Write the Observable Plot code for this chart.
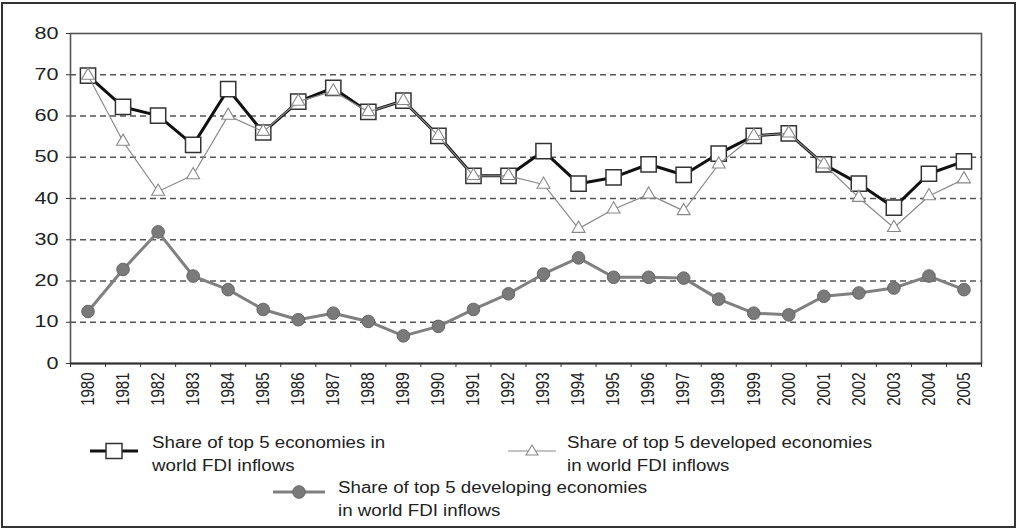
<!DOCTYPE html>
<html>
<head>
<meta charset="utf-8">
<script src="https://cdn.jsdelivr.net/npm/d3@7"></script>
<script src="https://cdn.jsdelivr.net/npm/@observablehq/plot@0.6"></script>
<style>
  html, body { margin: 0; padding: 0; background: #fff; }
  #wrap { position: relative; width: 1019px; height: 529px; overflow: hidden; font-family: "Liberation Sans", Arial, sans-serif; }
  #outer { position: absolute; left: 1px; top: 2px; width: 1015px; height: 526px; box-sizing: border-box; border: 2px solid #333; }
  #chart { position: absolute; left: 0; top: 0; }
  .leg { position: absolute; font-size: 16px; line-height: 23px; color: #222; white-space: nowrap; }
  .leg span { display: inline-block; transform-origin: left top; }
  .icon { position: absolute; }
</style>
</head>
<body>
<div id="wrap">
  <div id="outer"></div>
  <div id="chart"></div>
</div>
<script>
const years = [1980, 1981, 1982, 1983, 1984, 1985, 1986, 1987, 1988, 1989, 1990, 1991, 1992,
               1993, 1994, 1995, 1996, 1997, 1998, 1999, 2000, 2001, 2002, 2003, 2004, 2005];
const total = [69.8, 62.2, 60.1, 53.0, 66.5, 56.0, 63.5, 66.8, 61.0, 63.7, 55.2, 45.5, 45.5,
               51.5, 43.6, 45.1, 48.3, 45.7, 50.9, 55.2, 55.8, 48.3, 43.6, 37.8, 46.0, 49.0];
const developed = [69.8, 53.8, 41.7, 45.7, 60.1, 56.2, 63.5, 66.0, 61.0, 63.7, 55.2, 45.5, 45.5,
                   43.4, 32.7, 37.4, 41.0, 37.0, 48.3, 55.2, 55.8, 48.3, 40.2, 32.9, 40.6, 44.7];
const developing = [12.6, 22.8, 31.9, 21.2, 17.9, 13.1, 10.6, 12.2, 10.2, 6.7, 9.0, 13.1, 16.9,
                    21.7, 25.6, 20.9, 20.9, 20.7, 15.6, 12.2, 11.8, 16.3, 17.1, 18.3, 21.2, 17.9];
const yTicks = [0, 10, 20, 30, 40, 50, 60, 70, 80];
const gridTicks = [10, 20, 30, 40, 50, 60, 70];
const legendLabels = [
  ["Share of top 5 economies in", "world FDI inflows"],
  ["Share of top 5 developed economies", "in world FDI inflows"],
  ["Share of top 5 developing economies", "in world FDI inflows"]
];

const data = years.map((year, i) => ({year, total: total[i], developed: developed[i], developing: developing[i]}));
const boundaries = years.map(y => y - 0.5).concat([years[years.length - 1] + 0.5]);

const plot = Plot.plot({
  width: 1019,
  height: 420,
  marginLeft: 70,
  marginRight: 38,
  marginTop: 33,
  marginBottom: 57,
  style: {fontFamily: "'Liberation Sans', Arial, sans-serif", background: "transparent", color: "#222"},
  x: {type: "linear", domain: [years[0] - 0.5, years[years.length - 1] + 0.5], label: null},
  y: {domain: [0, 80], label: null},
  marks: [
    Plot.gridY({ticks: gridTicks, stroke: "#555", strokeOpacity: 1, strokeWidth: 1.6, strokeDasharray: "6,4"}),
    Plot.frame({stroke: "#555", strokeWidth: 1.6}),
    Plot.axisY({ticks: yTicks, tickSize: 4, tickPadding: 8, fontSize: 16, label: null, tickFormat: d => String(d), stroke: "#333"}),
    Plot.axisX({ticks: boundaries, tickSize: 4, label: null, tickFormat: () => "", stroke: "#333"}),
    Plot.axisX({ticks: years, tickSize: 0, tickPadding: 9, tickRotate: -90, fontSize: 15, label: null, tickFormat: d => String(d)}),
    Plot.ruleY([0], {stroke: "#333", strokeWidth: 2}),
    Plot.line(data, {x: "year", y: "total", stroke: "#111", strokeWidth: 3}),
    Plot.dot(data, {x: "year", y: "total", symbol: "square", r: 8.6, fill: "#fff", stroke: "#333", strokeWidth: 1.5}),
    Plot.line(data, {x: "year", y: "developed", stroke: "#8a8a8a", strokeWidth: 1.2}),
    Plot.dot(data, {x: "year", y: "developed", symbol: "triangle", r: 4.8, fill: "#fff", stroke: "#888", strokeWidth: 1.1}),
    Plot.line(data, {x: "year", y: "developing", stroke: "#808080", strokeWidth: 3}),
    Plot.dot(data, {x: "year", y: "developing", symbol: "circle", r: 6.3, fill: "#7a7a7a", stroke: "#666", strokeWidth: 1})
  ]
});
document.getElementById("chart").appendChild(plot);

// widen glyphs to mimic the stretched look of the original
d3.select(plot).selectAll('g[aria-label="y-axis tick label"] text').each(function() {
  const len = this.getComputedTextLength();
  d3.select(this).attr("textLength", len * 1.35).attr("lengthAdjust", "spacingAndGlyphs");
});
d3.select(plot).selectAll('g[aria-label="x-axis tick label"] text').each(function() {
  const t = this.getAttribute("transform");
  if (t) this.setAttribute("transform", t + " scale(1,1.2)");
});

// legend
const wrap = document.getElementById("wrap");
const legPos = [
  {x: 152, y: 431},
  {x: 567, y: 431},
  {x: 338, y: 476}
];
const legDivs = legendLabels.map((lines, i) => {
  const d = document.createElement("div");
  d.className = "leg";
  d.style.left = legPos[i].x + "px";
  d.style.top = legPos[i].y + "px";
  d.innerHTML = lines.map(l => `<span>${l}</span>`).join("<br>");
  wrap.appendChild(d);
  return d;
});
// scale text width to match
const probe = legDivs[1].querySelector("span");
const factor = 305 / probe.getBoundingClientRect().width;
legDivs.forEach(d => d.querySelectorAll("span").forEach(s => s.style.transform = `scaleX(${factor})`));

function icon(x, y, w, h, inner) {
  const s = document.createElementNS("http://www.w3.org/2000/svg", "svg");
  s.setAttribute("width", w); s.setAttribute("height", h);
  s.setAttribute("class", "icon");
  s.style.left = x + "px"; s.style.top = y + "px";
  s.innerHTML = inner;
  wrap.appendChild(s);
}
icon(88, 440, 52, 22,
  `<line x1="2" y1="11" x2="50" y2="11" stroke="#111" stroke-width="3"/>
   <rect x="18" y="3.5" width="16" height="15" fill="#fff" stroke="#333" stroke-width="1.5"/>`);
icon(506, 440, 52, 22,
  `<line x1="2" y1="11" x2="50" y2="11" stroke="#8a8a8a" stroke-width="1.2"/>
   <path d="M26,5 L32,15 L20,15 Z" fill="#fff" stroke="#888" stroke-width="1.1"/>`);
icon(271, 481, 56, 22,
  `<line x1="2" y1="11" x2="54" y2="11" stroke="#808080" stroke-width="3"/>
   <circle cx="28" cy="11" r="6.3" fill="#7a7a7a" stroke="#666"/>`);
</script>
</body>
</html>
